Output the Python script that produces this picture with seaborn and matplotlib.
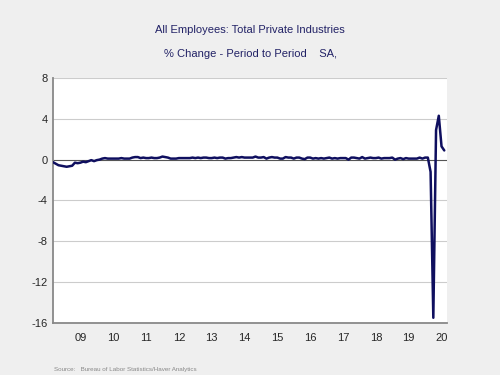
import numpy as np
import pandas as pd
import matplotlib
matplotlib.use("Agg")
import matplotlib.pyplot as plt
import seaborn as sns

# =====================================
# Data (monthly % change, Sep 2008 - Aug 2020)
# =====================================

start_year = 2008
start_month = 9

pct_2008 = [-0.25, -0.4, -0.55, -0.6]
pct_2009 = [-0.65, -0.7, -0.65, -0.6, -0.3, -0.35, -0.3, -0.2, -0.25, -0.15, -0.05, -0.15]
pct_2010 = [-0.05, 0.0, 0.1, 0.15, 0.1, 0.1, 0.1, 0.1, 0.1, 0.15, 0.1, 0.1]
pct_2011 = [0.1, 0.2, 0.25, 0.25, 0.15, 0.2, 0.15, 0.15, 0.2, 0.15, 0.15, 0.2]
pct_2012 = [0.3, 0.25, 0.2, 0.1, 0.1, 0.1, 0.15, 0.15, 0.15, 0.15, 0.15, 0.2]
pct_2013 = [0.15, 0.2, 0.15, 0.2, 0.2, 0.15, 0.15, 0.2, 0.15, 0.2, 0.2, 0.1]
pct_2014 = [0.15, 0.15, 0.2, 0.25, 0.2, 0.25, 0.2, 0.2, 0.2, 0.2, 0.3, 0.2]
pct_2015 = [0.2, 0.25, 0.1, 0.2, 0.25, 0.2, 0.2, 0.1, 0.1, 0.25, 0.2, 0.2]
pct_2016 = [0.1, 0.2, 0.2, 0.1, 0.05, 0.2, 0.2, 0.1, 0.15, 0.1, 0.15, 0.1]
pct_2017 = [0.15, 0.2, 0.1, 0.15, 0.1, 0.15, 0.15, 0.15, 0.0, 0.2, 0.2, 0.15]
pct_2018 = [0.1, 0.25, 0.1, 0.15, 0.2, 0.15, 0.15, 0.2, 0.1, 0.15, 0.15, 0.15]
pct_2019 = [0.2, 0.0, 0.1, 0.15, 0.05, 0.15, 0.1, 0.1, 0.1, 0.1, 0.2, 0.1]
pct_2020 = [0.2, 0.2, -1.2, -15.5, 2.9, 4.3, 1.3, 0.9]

year_labels = ["09", "10", "11", "12", "13", "14", "15", "16", "17", "18", "19", "20"]
y_ticks = [8, 4, 0, -4, -8, -12, -16]

values = (pct_2008 + pct_2009 + pct_2010 + pct_2011 + pct_2012 + pct_2013
          + pct_2014 + pct_2015 + pct_2016 + pct_2017 + pct_2018 + pct_2019 + pct_2020)

dates = start_year + (start_month - 1) / 12 + np.arange(len(values)) / 12
df = pd.DataFrame({"date": dates, "pct": values})

# =====================================
# Plot
# =====================================

sns.set_style("white")
plt.rcParams["font.family"] = ["Liberation Sans", "DejaVu Sans"]

bg = "#efefef"
navy = "#0f0f5f"
title_color = "#222266"

fig = plt.figure(figsize=(5, 3.75), dpi=100, facecolor=bg)
ax = fig.add_axes([0.106, 0.139, 0.788, 0.653])
ax.set_facecolor("white")

for y in y_ticks:
    if y != 0:
        ax.axhline(y, color="#cccccc", linewidth=0.8, zorder=0)
ax.axhline(0, color="#555555", linewidth=0.8, zorder=1)

sns.lineplot(data=df, x="date", y="pct", color=navy, linewidth=1.8, ax=ax, zorder=3)

ax.set_xlim(2008 + 8 / 12, 2020 + 8 / 12)
ax.set_ylim(-16, 8)
ax.set_xlabel("")
ax.set_ylabel("")

ax.set_yticks(y_ticks)
ax.set_yticklabels([str(t) for t in y_ticks], fontsize=8)

years = np.arange(2009, 2021)
ax.set_xticks(years)
ax.set_xticklabels([""] * len(years))
quarters = np.arange(2008.75, 2020.75, 0.25)
quarter_labels = []
for q in quarters:
    if abs(q - np.floor(q) - 0.5) < 1e-6:
        quarter_labels.append(str(int(np.floor(q)))[-2:])
    else:
        quarter_labels.append("")
ax.set_xticks(quarters, minor=True)
ax.set_xticklabels(quarter_labels, minor=True, fontsize=8)

ax.tick_params(axis="x", which="major", length=4, width=0.8, color="#777777", direction="out")
ax.tick_params(axis="x", which="minor", length=2.5, width=0.6, color="#777777", direction="out", pad=5)
ax.tick_params(axis="y", length=2, width=0.8, color="#777777", pad=2)

for side in ["top", "right"]:
    ax.spines[side].set_visible(False)
ax.spines["left"].set_color("#888888")
ax.spines["left"].set_linewidth(1.3)
ax.spines["bottom"].set_color("#888888")
ax.spines["bottom"].set_linewidth(1.3)

fig.text(0.5, 0.92, "All Employees: Total Private Industries",
         ha="center", va="center", fontsize=8, color=title_color)
fig.text(0.5, 0.855, "% Change - Period to Period    SA,",
         ha="center", va="center", fontsize=8, color=title_color)
fig.text(0.108, 0.015, "Source:   Bureau of Labor Statistics/Haver Analytics",
         ha="left", va="center", fontsize=4.5, color="#888888")

fig.savefig("out.png", dpi=100, facecolor=bg)
